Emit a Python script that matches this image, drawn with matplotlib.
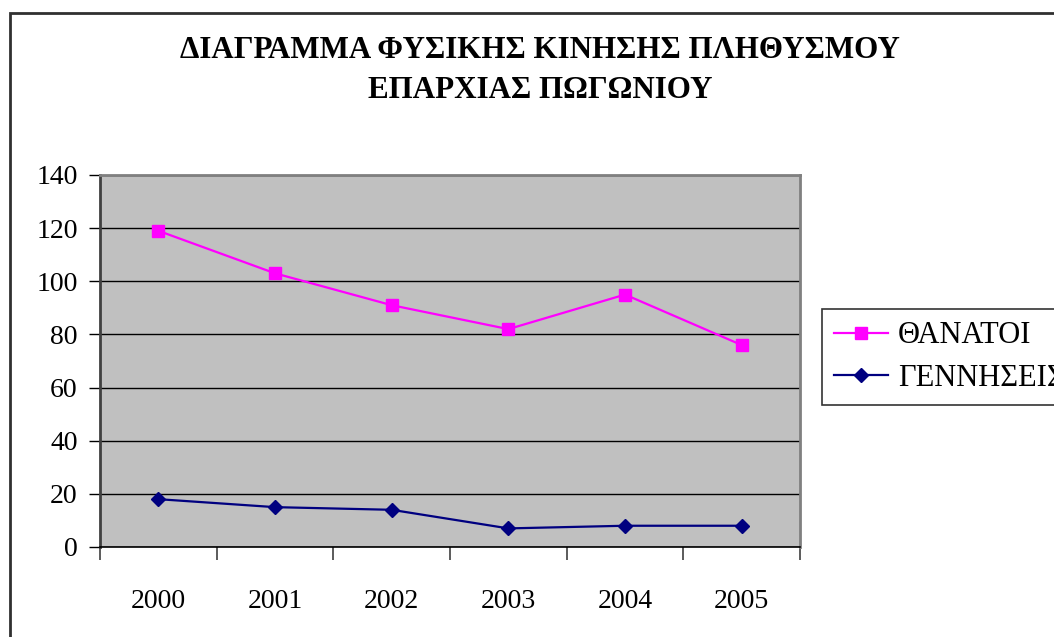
import numpy as np
import matplotlib
matplotlib.use("Agg")
import matplotlib.pyplot as plt
from matplotlib.patches import Rectangle

years = ["2000", "2001", "2002", "2003", "2004", "2005"]
deaths = [119, 103, 91, 82, 95, 76]
births = [18, 15, 14, 7, 8, 8]
title = "ΔΙΑΓΡΑΜΜΑ ΦΥΣΙΚΗΣ ΚΙΝΗΣΗΣ ΠΛΗΘΥΣΜΟΥ\nΕΠΑΡΧΙΑΣ ΠΩΓΩΝΙΟΥ"

W, H = 1054, 637
plt.rcParams["font.family"] = ["Liberation Serif", "DejaVu Serif"]

fig = plt.figure(figsize=(W / 100, H / 100), dpi=100)

# outer chart frame (cut off at right and bottom, like the source)
fig.patches.append(Rectangle((10 / W, -0.1), 1.2, 1 - 13 / H + 0.1,
                             transform=fig.transFigure, fill=False,
                             edgecolor="#303030", lw=2))

ax = fig.add_axes([100 / W, (H - 547) / H, 700 / W, 372 / H])
ax.set_facecolor("#C0C0C0")

x = np.arange(len(years))
ax.plot(x, deaths, color="#FF00FF", lw=1.6, marker="s", ms=8.5,
        label="ΘΑΝΑΤΟΙ")
ax.plot(x, births, color="#000080", lw=1.6, marker="D", ms=7.5,
        label="ΓΕΝΝΗΣΕΙΣ")

ax.set_xlim(-0.5, len(years) - 0.5)
ax.set_ylim(0, 140)
ax.set_yticks(range(0, 141, 20))
ax.yaxis.grid(True, color="black", lw=1)
ax.set_axisbelow(True)

ax.set_xticks(x)
ax.set_xticklabels(years)
ax.set_xticks(np.arange(-0.5, len(years)), minor=True)
ax.tick_params(axis="x", which="major", length=0, pad=30, labelsize=20)
ax.tick_params(axis="x", which="minor", length=9, width=1.2, color="#404040")
ax.tick_params(axis="y", length=8, width=1, pad=8, labelsize=20)

for side in ["top", "right"]:
    ax.spines[side].set_color("#808080")
    ax.spines[side].set_linewidth(2)
ax.spines["left"].set_color("#404040")
ax.spines["left"].set_linewidth(2)
ax.spines["bottom"].set_color("black")
ax.spines["bottom"].set_linewidth(1.2)

fig.text(540 / W, 1 - 70 / H, title, ha="center", va="center",
         fontsize=22.3, fontweight="bold", linespacing=1.5)

leg = fig.legend(loc="upper left", bbox_to_anchor=(822 / W, 1 - 309 / H),
                 fontsize=22, frameon=True, fancybox=False, edgecolor="black",
                 handlelength=1.75, handletextpad=0.33, borderpad=0.4,
                 labelspacing=0.45, borderaxespad=0)
leg.get_frame().set_linewidth(1.2)

fig.savefig("out.png", dpi=100)
